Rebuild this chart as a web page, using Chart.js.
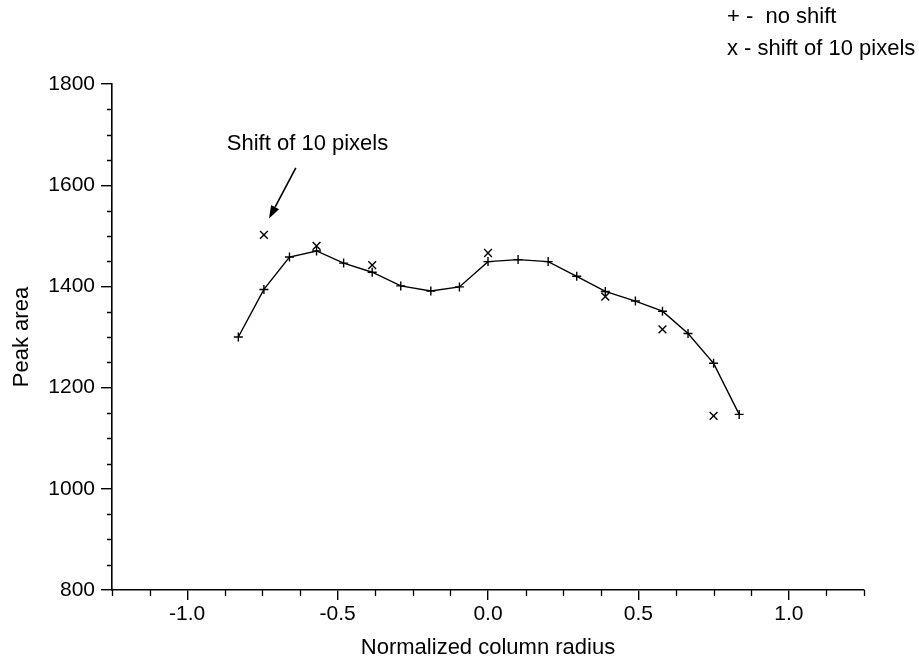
<!DOCTYPE html>
<html>
<head>
<meta charset="utf-8">
<script src="https://cdn.jsdelivr.net/npm/chart.js@4.4.1/dist/chart.umd.min.js"></script>
<style>
  html, body { margin: 0; padding: 0; background: #fff; }
  #wrap { width: 919px; height: 662px; position: relative; }
</style>
</head>
<body>
<div id="wrap"><canvas id="c" width="919" height="662"></canvas></div>
<script>
// ---- data ----
const radiusNoShift = [-0.83, -0.745, -0.66, -0.57, -0.48, -0.385, -0.29, -0.19, -0.095, 0.0, 0.1, 0.2, 0.295, 0.39, 0.49, 0.58, 0.665, 0.75, 0.835];
const areaNoShift   = [1300, 1394, 1458, 1470, 1446, 1428, 1401, 1391, 1399, 1449, 1453, 1449, 1420, 1390, 1371, 1351, 1307, 1248, 1147];
const radiusShift   = [-0.745, -0.57, -0.385, 0.0, 0.39, 0.58, 0.75];
const areaShift     = [1502, 1480, 1442, 1466, 1380, 1315, 1144];

const xTickValues  = [-1.0, -0.5, 0.0, 0.5, 1.0];
const xMinorValues = [-1.25, -1.125, -0.875, -0.75, -0.625, -0.375, -0.25, -0.125, 0.125, 0.25, 0.375, 0.625, 0.75, 0.875, 1.125, 1.25];
const yTickValues  = [800, 1000, 1200, 1400, 1600, 1800];
const yMinorValues = [850, 900, 950, 1050, 1100, 1150, 1250, 1300, 1350, 1450, 1500, 1550, 1650, 1700, 1750];

const xTitle = 'Normalized column radius';
const yTitle = 'Peak area';
const legendLines = ['+ -  no shift', 'x - shift of 10 pixels'];
const noteText = 'Shift of 10 pixels';
const noteTextPos = { x: -0.60, y: 1682 };
const arrowFrom = { x: -0.639, y: 1634 };
const arrowTo   = { x: -0.728, y: 1534 };

const FONT = "'Liberation Sans', Arial, Helvetica, sans-serif";

const toPoints = (xs, ys) => xs.map((x, i) => ({ x: x, y: ys[i] }));

const extras = {
  id: 'extras',
  afterDraw(chart) {
    const ctx = chart.ctx;
    const xs = chart.scales.x, ys = chart.scales.y;
    const area = chart.chartArea;
    ctx.save();
    ctx.strokeStyle = '#000';
    ctx.lineWidth = 1.3;
    // minor ticks x
    ctx.beginPath();
    xMinorValues.forEach(v => {
      const px = Math.round(xs.getPixelForValue(v)) + 0.5;
      ctx.moveTo(px, area.bottom);
      ctx.lineTo(px, area.bottom + 6);
    });
    // minor ticks y
    yMinorValues.forEach(v => {
      const py = Math.round(ys.getPixelForValue(v)) + 0.5;
      ctx.moveTo(area.left, py);
      ctx.lineTo(area.left - 5, py);
    });
    ctx.stroke();

    // legend text (top right)
    ctx.fillStyle = '#000';
    ctx.font = '22px ' + FONT;
    ctx.textAlign = 'left';
    ctx.textBaseline = 'middle';
    ctx.fillText(legendLines[0], 727, 17);
    ctx.fillText(legendLines[1], 727, 49);

    // annotation
    ctx.textAlign = 'center';
    ctx.font = '22px ' + FONT;
    ctx.fillText(noteText, xs.getPixelForValue(noteTextPos.x), ys.getPixelForValue(noteTextPos.y));

    // arrow
    const x1 = xs.getPixelForValue(arrowFrom.x), y1 = ys.getPixelForValue(arrowFrom.y);
    const x2 = xs.getPixelForValue(arrowTo.x),   y2 = ys.getPixelForValue(arrowTo.y);
    const ang = Math.atan2(y2 - y1, x2 - x1);
    const hl = 13, hw = 4.5;
    const bx = x2 - hl * Math.cos(ang), by = y2 - hl * Math.sin(ang);
    ctx.lineWidth = 1.6;
    ctx.beginPath();
    ctx.moveTo(x1, y1);
    ctx.lineTo(bx, by);
    ctx.stroke();
    ctx.beginPath();
    ctx.moveTo(x2, y2);
    ctx.lineTo(bx + hw * Math.sin(ang), by - hw * Math.cos(ang));
    ctx.lineTo(bx - hw * Math.sin(ang), by + hw * Math.cos(ang));
    ctx.closePath();
    ctx.fill();
    ctx.restore();
  }
};

new Chart(document.getElementById('c'), {
  type: 'scatter',
  data: {
    datasets: [
      {
        label: 'no shift',
        data: toPoints(radiusNoShift, areaNoShift),
        showLine: true,
        tension: 0,
        borderColor: '#000',
        borderWidth: 1.4,
        pointStyle: 'cross',
        pointRadius: 4.5,
        pointBorderWidth: 1.4,
        pointBorderColor: '#000',
        pointBackgroundColor: '#000'
      },
      {
        label: 'shift of 10 pixels',
        data: toPoints(radiusShift, areaShift),
        showLine: false,
        pointStyle: 'crossRot',
        pointRadius: 5.5,
        pointBorderWidth: 1.4,
        pointBorderColor: '#000',
        pointBackgroundColor: '#000'
      }
    ]
  },
  options: {
    responsive: false,
    animation: false,
    devicePixelRatio: 1,
    layout: { padding: { top: 84, right: 55, left: 0, bottom: 0 } },
    plugins: { legend: { display: false }, tooltip: { enabled: false } },
    scales: {
      x: {
        type: 'linear',
        min: -1.25,
        max: 1.25,
        afterBuildTicks: s => { s.ticks = xTickValues.map(v => ({ value: v })); },
        afterFit: s => { s.height = 72; },
        ticks: {
          color: '#000',
          font: { family: FONT, size: 21 },
          padding: 2,
          maxRotation: 0,
          callback: v => Number(v).toFixed(1)
        },
        grid: { drawOnChartArea: false, drawTicks: true, tickLength: 10, color: '#000', lineWidth: 1.4 },
        border: { display: true, color: '#000', width: 1.6 },
        title: { display: true, text: xTitle, color: '#000', font: { family: FONT, size: 22 }, padding: { top: 0, bottom: 1 } }
      },
      y: {
        type: 'linear',
        min: 800,
        max: 1800,
        afterBuildTicks: s => { s.ticks = yTickValues.map(v => ({ value: v })); },
        afterFit: s => { s.width = 112; },
        ticks: {
          color: '#000',
          font: { family: FONT, size: 21 },
          padding: 6,
          callback: v => String(v)
        },
        grid: { drawOnChartArea: false, drawTicks: true, tickLength: 11, color: '#000', lineWidth: 1.4 },
        border: { display: true, color: '#000', width: 1.6 },
        title: { display: true, text: yTitle, color: '#000', font: { family: FONT, size: 22 }, padding: { top: 9, bottom: 0 } }
      }
    }
  },
  plugins: [extras]
});
</script>
</body>
</html>
